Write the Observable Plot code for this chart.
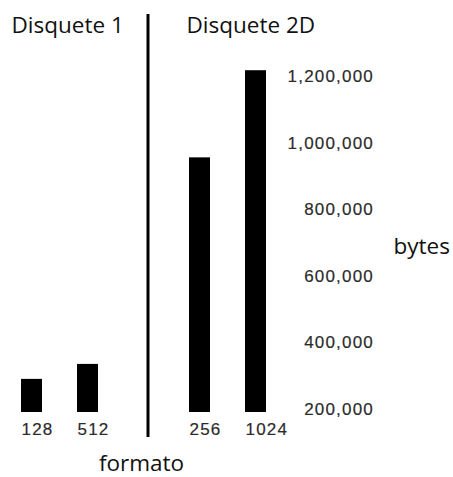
<!DOCTYPE html>
<html>
<head>
<meta charset="utf-8">
<script src="https://cdn.jsdelivr.net/npm/d3@7"></script>
<script src="https://cdn.jsdelivr.net/npm/@observablehq/plot@0.6"></script>
<style>
  html, body { margin: 0; padding: 0; background: white; }
  svg g[aria-label="x-axis tick label"] text, svg g[aria-label="y-axis tick label"] text { letter-spacing: 1.2px; stroke: #333; stroke-width: 0.2px; }
</style>
</head>
<body>
<div id="chart"></div>
<script>
const groups = ["Disquete 1", "Disquete 2D"];
const formats = ["128", "512", "256", "1024"];
const disks = ["Disquete 1", "Disquete 1", "Disquete 2D", "Disquete 2D"];
const bytes = [290000, 335000, 956000, 1218000];
const yTicks = [200000, 400000, 600000, 800000, 1000000, 1200000];
const xLabel = "formato";
const yLabel = "bytes";

const SEP = "sep";
const data = formats.map((f, i) => ({format: f, disk: disks[i], bytes: bytes[i]}));
const xDomain = [formats[0], formats[1], SEP, formats[2], formats[3]];

const titleFont = "'Open Sans', 'Noto Sans', sans-serif";

const chart = Plot.plot({
  width: 453,
  height: 477,
  marginLeft: 20,
  marginRight: 187,
  marginTop: 60,
  marginBottom: 65,
  style: {fontFamily: "'Liberation Sans', Arial, sans-serif", fontSize: "17px", background: "white", color: "#2a2a2a"},
  x: {type: "band", domain: xDomain, paddingInner: 0.626, paddingOuter: 0},
  y: {domain: [190400, 1248700]},
  marks: [
    Plot.barY(data, {x: "format", y: "bytes", fill: "black", clip: true}),
    Plot.ruleX([SEP], {x: d => d, stroke: "black", strokeWidth: 3, insetTop: -46, insetBottom: -25, dx: 4}),
    Plot.axisX({ticks: formats, tickSize: 0, tickPadding: 10, textAnchor: "start", dx: -10.5, label: null}),
    Plot.axisY({anchor: "right", ticks: yTicks, tickFormat: d3.format(","), tickSize: 0, tickPadding: 0, textAnchor: "end", dx: 107.5, label: null}),
    Plot.text([groups[0]], {text: d => d, frameAnchor: "top-left", textAnchor: "start", lineAnchor: "middle", dx: -9, dy: -35, fontSize: 22.5, fontFamily: titleFont, fill: "#111"}),
    Plot.text([groups[1]], {text: d => d, frameAnchor: "top", textAnchor: "start", lineAnchor: "middle", dx: 43, dy: -35, fontSize: 22.5, fontFamily: titleFont, fill: "#111"}),
    Plot.text([yLabel], {text: d => d, frameAnchor: "right", textAnchor: "start", lineAnchor: "middle", dx: 127, dy: 10, fontSize: 22.5, fontFamily: titleFont, fill: "#111"}),
    Plot.text([xLabel], {text: d => d, frameAnchor: "bottom", textAnchor: "middle", lineAnchor: "middle", dx: -2, dy: 51, fontSize: 22.5, fontFamily: titleFont, fill: "#111"})
  ]
});
document.getElementById("chart").appendChild(chart);
</script>
</body>
</html>
